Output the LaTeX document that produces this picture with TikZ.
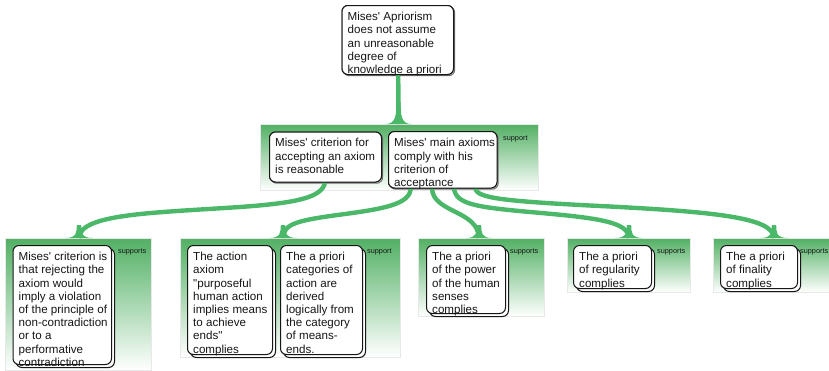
\documentclass[tikz,border=0pt]{standalone}
\usepackage{fontspec}
\setmainfont{Liberation Sans}
\usetikzlibrary{calc,shadows}

\definecolor{linkGreen}{RGB}{74,184,104}
\definecolor{bandGreen}{RGB}{82,176,100}
\definecolor{ink}{RGB}{22,22,22}

% straight quote marks
\newcommand{\sq}{\textquotesingle}
\newcommand{\dq}{\textquotedbl}

\tikzset{
  band/.style={anchor=north west, inner sep=0pt, draw=black!9, line width=0.6pt,
    top color=bandGreen, bottom color=white},
  argbox/.style={anchor=north west, inner sep=0pt, draw=ink, line width=1pt,
    fill=white, rounded corners=6pt},
  softshadow/.style={general shadow={draw=black!55, fill=white, line width=1pt,
    shadow xshift=1.2pt, shadow yshift=-1.2pt}},
  stackshadow/.style={general shadow={draw=ink, fill=white, line width=1pt,
    shadow xshift=3pt, shadow yshift=-3pt}},
  txt/.style={anchor=north west, inner sep=0pt, align=left, text=ink,
    font=\fontsize{11.6}{13.2}\selectfont},
  rel/.style={anchor=base west, inner sep=0pt, text=ink,
    font=\fontsize{7.3}{9}\selectfont},
  link/.style={draw=linkGreen, line width=4.4pt},
  pics/flare/.style n args={2}{code={
    \fill[linkGreen] (-#1,0) .. controls (-2.2,0) and (-2.2,-0.45*#2) .. (-2.2,-#2)
      -- (2.2,-#2) .. controls (2.2,-0.45*#2) and (2.2,0) .. (#1,0) -- cycle;}}
}

\begin{document}
\begin{tikzpicture}[x=1pt,y=-1pt]
\useasboundingbox (0,0) rectangle (829,370);

% shaded bands that group the reasons under each claim
\node[band, minimum width=278pt, minimum height=66pt] (bandTop) at (260,124) {};
\node[band, minimum width=146pt, minimum height=132pt] (band1) at (5,238) {};
\node[band, minimum width=220pt, minimum height=119pt] (band2) at (180,238) {};
\node[band, minimum width=126pt, minimum height=78pt] (band3) at (418,238) {};
\node[band, minimum width=123pt, minimum height=54pt] (band4) at (567,238) {};
\node[band, minimum width=125pt, minimum height=54pt] (band5) at (713,238) {};

% argument boxes (outlines only, text is set separately)
\node[argbox, softshadow, minimum width=111.5pt, minimum height=69pt] (claim) at (341.5,5) {};
\node[argbox, softshadow, minimum width=112pt, minimum height=50pt] (critA) at (269,131.5) {};
\node[argbox, softshadow, minimum width=108.5pt, minimum height=56.5pt] (critB) at (388,131) {};

% connector end points
\coordinate (outTop) at ($(claim.south)+(0.5,0)$);
\coordinate (inTop) at ($(bandTop.north west)+(138.5,0)$);
\coordinate (outA) at ($(critA.south west)+(56,0)$);
\coordinate (outB1) at ($(critB.south west)+(23,0)$);
\coordinate (outB2) at ($(critB.south west)+(44,0)$);
\coordinate (outB3) at ($(critB.south west)+(66,0)$);
\coordinate (outB4) at ($(critB.south west)+(87,0)$);
\coordinate (in1) at ($(band1.north west)+(74,0)$);
\coordinate (in2) at ($(band2.north west)+(103,0)$);
\coordinate (in3) at ($(band3.north west)+(61,0)$);
\coordinate (in4) at ($(band4.north west)+(62,0)$);
\coordinate (in5) at ($(band5.north west)+(61,0)$);

% green support links
\draw[link] (outTop) -- (inTop);
\pic at (inTop) {flare={13}{22}};
\draw[link] (outA) .. controls (322,198) and (295,203) .. (240,207)
  .. controls (150,213) and (80,214) .. (in1);
\pic at (in1) {flare={14}{13}};
\draw[link] (outB1) .. controls (409,203) and (390,208) .. (345,214)
  .. controls (300,220) and (283,223) .. (in2);
\pic at (in2) {flare={14}{13}};
\draw[link] (outB2) .. controls (433,213) and (478,210) .. (in3);
\pic at (in3) {flare={13}{13}};
\draw[link] (outB3) .. controls (456,204) and (475,207) .. (530,212)
  .. controls (600,218) and (628,222) .. (in4);
\pic at (in4) {flare={14}{13}};
\draw[link] (outB4) .. controls (478,198) and (500,201) .. (600,206)
  .. controls (720,212) and (773,218) .. (in5);
\pic at (in5) {flare={14}{13}};

% redraw upper boxes over the link ends
\node[argbox, minimum width=111.5pt, minimum height=69pt] at (341.5,5) {};
\node[argbox, minimum width=112pt, minimum height=50pt] at (269,131.5) {};
\node[argbox, minimum width=108.5pt, minimum height=56.5pt] at (388,131) {};

% reason boxes
\node[argbox, stackshadow, minimum width=98.5pt, minimum height=119pt] (r1) at (12.5,245) {};
\node[argbox, stackshadow, minimum width=85pt, minimum height=109pt] (r2) at (187,245) {};
\node[argbox, stackshadow, minimum width=82pt, minimum height=109pt] (r3) at (280,245) {};
\node[argbox, stackshadow, minimum width=79pt, minimum height=68pt] (r4) at (426,245) {};
\node[argbox, stackshadow, minimum width=78pt, minimum height=43pt] (r5) at (573,245) {};
\node[argbox, stackshadow, minimum width=77pt, minimum height=43pt] (r6) at (720,245) {};

% texts
\node[txt] (claimT) at ($(claim.north west)+(6,6.3)$)
  {\strut Mises\sq{} Apriorism\\does not assume\\an unreasonable\\degree of\\knowledge a priori};
\node[txt] (critAT) at ($(critA.north west)+(6,5.9)$)
  {\strut Mises\sq{} criterion for\\accepting an axiom\\is reasonable};
\node[txt] (critBT) at ($(critB.north west)+(6,6.4)$)
  {\strut Mises\sq{} main axioms\\comply with his\\criterion of\\acceptance};
\node[txt] (r1T) at ($(r1.north west)+(6,6.3)$)
  {\strut Mises\sq{} criterion is\\that rejecting the\\axiom would\\imply a violation\\of the principle of\\non-contradiction\\or to a\\performative\\contradiction};
\node[txt] (r2T) at ($(r2.north west)+(6,6.3)$)
  {\strut The action\\axiom\\\dq{}purposeful\\human action\\implies means\\to achieve\\ends\dq\\complies};
\node[txt] (r3T) at ($(r3.north west)+(6,6.3)$)
  {\strut The a priori\\categories of\\action are\\derived\\logically from\\the category\\of means-\\ends.};
\node[txt] (r4T) at ($(r4.north west)+(6,6.3)$)
  {\strut The a priori\\of the power\\of the human\\senses\\complies};
\node[txt] (r5T) at ($(r5.north west)+(6,6.3)$)
  {\strut The a priori\\of regularity\\complies};
\node[txt] (r6T) at ($(r6.north west)+(6,6.3)$)
  {\strut The a priori\\of finality\\complies};

% relation labels
\node[rel] (relTop) at (503,140) {support};
\node[rel] (rel1) at (118,253.5) {supports};
\node[rel] (rel2) at (367,253.5) {support};
\node[rel] (rel3) at (510,253.5) {supports};
\node[rel] (rel4) at (657,253.5) {supports};
\node[rel] (rel5) at (800,253.5) {supports};
\end{tikzpicture}
\end{document}
